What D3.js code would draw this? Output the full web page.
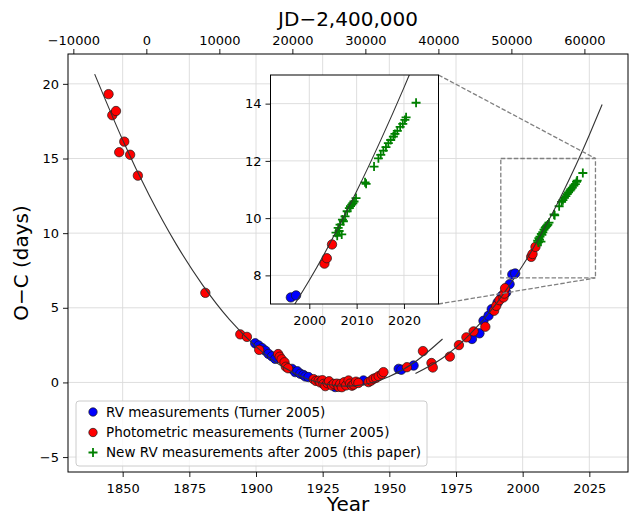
<!DOCTYPE html>
<html>
<head>
<meta charset="utf-8">
<script src="https://cdn.jsdelivr.net/npm/d3@7"></script>
<style>
body { margin: 0; background: #fff; }
text { font-family: "DejaVu Sans", sans-serif; }
</style>
</head>
<body>
<div id="chart"></div>
<script>
// O-C values: [year, O-C in days]
const rvTurner = [
  [1899.7, 2.62], [1901.0, 2.47], [1902.3, 2.30], [1903.5, 2.13], [1904.7, 1.91],
  [1906.0, 1.75], [1907.2, 1.58], [1913.5, 0.91], [1914.7, 0.69], [1915.5, 0.75],
  [1916.6, 0.58], [1917.8, 0.50], [1918.5, 0.40], [1919.7, 0.36], [1929.7, -0.31],
  [1940.3, 0.13], [1953.5, 0.91], [1954.5, 0.85], [1959.1, 1.13], [1981.0, 2.91],
  [1983.8, 3.29], [1985.3, 4.13], [1987.2, 4.47], [1988.4, 4.91], [1990.6, 5.35],
  [1992.2, 5.80], [1993.8, 6.02], [1995.1, 6.58], [1996.1, 7.23], [1997.2, 7.30]
];
const photTurner = [
  [1844.7, 19.31], [1846.1, 17.9], [1847.5, 18.18], [1848.7, 15.42], [1850.6, 16.13],
  [1852.8, 15.25], [1855.7, 13.85], [1881.0, 6.0], [1894.1, 3.22], [1896.6, 3.05],
  [1901.2, 2.18], [1908.3, 1.90], [1908.9, 1.72], [1909.6, 1.55], [1910.7, 1.35],
  [1911.2, 1.05], [1912.0, 0.95], [1921.6, 0.22], [1922.5, 0.10], [1923.5, 0.12],
  [1924.1, 0.0], [1924.9, 0.15], [1925.3, -0.10], [1926.0, -0.25], [1926.8, -0.05],
  [1927.4, 0.08], [1928.5, -0.20], [1929.2, -0.10], [1930.3, -0.08], [1931.0, -0.30],
  [1931.6, -0.10], [1932.2, -0.32], [1933.1, 0.02], [1933.8, -0.20], [1934.7, 0.13],
  [1935.3, -0.08], [1936.0, -0.22], [1936.6, -0.15], [1937.5, 0.05], [1938.4, -0.04],
  [1942.2, 0.02], [1943.2, 0.12], [1944.1, 0.25], [1945.0, 0.30], [1946.0, 0.42],
  [1947.2, 0.55], [1947.8, 0.69], [1956.6, 1.02], [1962.6, 2.10], [1965.8, 1.30],
  [1966.3, 1.00], [1972.7, 1.73], [1976.1, 2.50], [1978.9, 3.02], [1981.6, 3.42],
  [1986.0, 3.73], [1989.3, 4.80], [1990.1, 5.13], [1991.3, 5.51], [1992.8, 5.69],
  [1993.1, 5.95], [1993.4, 6.31], [2003.2, 8.41], [2003.7, 8.60], [2004.8, 9.08]
];
const rvNew = [
  [2005.64, 9.49], [2005.9, 9.38], [2006.1, 9.66], [2006.3, 9.55], [2006.5, 9.77],
  [2006.85, 9.43], [2007.0, 9.95], [2007.2, 9.89], [2007.55, 10.06], [2008.0, 10.24],
  [2008.46, 10.35], [2008.7, 10.42], [2008.96, 10.47], [2009.2, 10.52], [2009.45, 10.58],
  [2009.87, 10.70], [2011.78, 11.25], [2012.0, 11.20], [2013.68, 11.80], [2014.6, 12.09],
  [2015.1, 12.21], [2015.65, 12.36], [2016.2, 12.48], [2016.7, 12.62], [2017.2, 12.73],
  [2017.76, 12.85], [2018.1, 12.94], [2018.6, 13.05], [2019.2, 13.19], [2019.75, 13.29],
  [2020.2, 13.43], [2020.45, 13.52], [2022.56, 14.03]
];
// the two fitted curves
const fitEarly = [
  [1839.5, 20.65], [1850, 16.24], [1860, 12.52], [1870, 9.28], [1880, 6.52], [1890, 4.22],
  [1900, 2.40], [1910, 1.05], [1920, 0.18], [1930, -0.22], [1940, -0.15], [1950, 0.40],
  [1960, 1.42], [1969.95, 2.91]
];
const fitLate = [
  [1959.8, 0.60], [1970, 1.64], [1980, 3.18], [1990, 5.25], [2000, 7.83], [2005, 9.32],
  [2010, 10.94], [2015, 12.69], [2020, 14.56], [2025, 16.57], [2029.8, 18.62]
];

const yearTicks = [1850, 1875, 1900, 1925, 1950, 1975, 2000, 2025];
const jdTicks = [-10000, 0, 10000, 20000, 30000, 40000, 50000, 60000];
const ocTicks = [-5, 0, 5, 10, 15, 20];
const insetYearTicks = [2000, 2010, 2020];
const insetOcTicks = [8, 10, 12, 14];
const legendLabels = [
  "RV measurements (Turner 2005)",
  "Photometric measurements (Turner 2005)",
  "New RV measurements after 2005 (this paper)"
];

const width = 630, height = 516;
const L = 68, R = 628, T = 54, B = 472;

const toJD = yr => (yr - 2000) * 365.25 + 51544.5;

const x = d3.scaleLinear().domain([1829.5, 2039.5]).range([L, R]);
const y = d3.scaleLinear().domain([-6, 22]).range([B, T]);
const xJD = d3.scaleLinear().domain([toJD(1829.5), toJD(2039.5)]).range([L, R]);

// inset
const iL = 270.5, iR = 438.5, iT = 75, iB = 304;
const xi = d3.scaleLinear().domain([1991.8, 2027.3]).range([iL, iR]);
const yi = d3.scaleLinear().domain([7, 15]).range([iB, iT]);

const svg = d3.select("#chart").append("svg")
  .attr("width", width).attr("height", height);

svg.append("clipPath").attr("id", "clipMain")
  .append("rect").attr("x", L).attr("y", T).attr("width", R - L).attr("height", B - T);
svg.append("clipPath").attr("id", "clipInset")
  .append("rect").attr("x", iL).attr("y", iT).attr("width", iR - iL).attr("height", iB - iT);

function styleAxis(g) {
  g.attr("font-family", "DejaVu Sans").attr("font-size", 13);
  g.select(".domain").remove();
  g.selectAll(".tick line").attr("stroke", "#000").attr("stroke-width", 0.9);
  g.selectAll(".tick text").attr("fill", "#000");
}

function drawPanel(g, xs, ys, xt, yt, clipId) {
  // grid
  g.append("g").selectAll("line").data(xt).join("line")
    .attr("x1", d => xs(d)).attr("x2", d => xs(d))
    .attr("y1", ys.range()[0]).attr("y2", ys.range()[1])
    .attr("stroke", "#dadada").attr("stroke-width", 0.9);
  g.append("g").selectAll("line").data(yt).join("line")
    .attr("y1", d => ys(d)).attr("y2", d => ys(d))
    .attr("x1", xs.range()[0]).attr("x2", xs.range()[1])
    .attr("stroke", "#dadada").attr("stroke-width", 0.9);

  const body = g.append("g").attr("clip-path", `url(#${clipId})`);
  return body;
}

function drawData(body, xs, ys) {
  body.append("g").selectAll("circle").data(rvTurner).join("circle")
    .attr("cx", d => xs(d[0])).attr("cy", d => ys(d[1])).attr("r", 4.7)
    .attr("fill", "#0000ff").attr("stroke", "#1a1a1a").attr("stroke-width", 0.7);
  body.append("g").selectAll("circle").data(photTurner).join("circle")
    .attr("cx", d => xs(d[0])).attr("cy", d => ys(d[1])).attr("r", 4.7)
    .attr("fill", "#ff0000").attr("stroke", "#1a1a1a").attr("stroke-width", 0.7);
  body.append("g").selectAll("path").data(rvNew).join("path")
    .attr("d", d => `M${xs(d[0]) - 4.5},${ys(d[1])}h9M${xs(d[0])},${ys(d[1]) - 4.5}v9`)
    .attr("stroke", "#008000").attr("stroke-width", 1.8).attr("fill", "none");

  const line = d3.line().x(d => xs(d[0])).y(d => ys(d[1])).curve(d3.curveNatural);
  [fitEarly, fitLate].forEach(c => {
    body.append("path").attr("d", line(c))
      .attr("fill", "none").attr("stroke", "#333").attr("stroke-width", 1.1);
  });
}

// main panel
const main = svg.append("g");
const mainBody = drawPanel(main, x, y, yearTicks, ocTicks, "clipMain");

// zoom box and connectors
const boxX0 = x(xi.domain()[0]), boxX1 = x(xi.domain()[1]);
const boxY0 = y(yi.domain()[1]), boxY1 = y(yi.domain()[0]);
main.append("rect")
  .attr("x", boxX0).attr("y", boxY0).attr("width", boxX1 - boxX0).attr("height", boxY1 - boxY0)
  .attr("fill", "none").attr("stroke", "#808080").attr("stroke-width", 1.3)
  .attr("stroke-dasharray", "4.5,2");
main.append("line").attr("x1", iR).attr("y1", iT).attr("x2", boxX1).attr("y2", boxY0)
  .attr("stroke", "#808080").attr("stroke-width", 1.3).attr("stroke-dasharray", "4.5,2");
main.append("line").attr("x1", iR).attr("y1", iB).attr("x2", boxX1).attr("y2", boxY1)
  .attr("stroke", "#808080").attr("stroke-width", 1.3).attr("stroke-dasharray", "4.5,2");

drawData(mainBody, x, y);

main.append("rect").attr("x", L).attr("y", T).attr("width", R - L).attr("height", B - T)
  .attr("fill", "none").attr("stroke", "#000").attr("stroke-width", 1);

// axes
const fmt = d3.format("d");
svg.append("g").attr("transform", `translate(0,${B})`)
  .call(d3.axisBottom(x).tickValues(yearTicks).tickFormat(fmt).tickSizeOuter(0).tickSize(5).tickPadding(4))
  .call(styleAxis)
  .call(g => g.selectAll(".tick text").attr("dy", null).attr("y", 20.5));
svg.append("g").attr("transform", `translate(0,${T})`)
  .call(d3.axisTop(xJD).tickValues(jdTicks).tickFormat(fmt).tickSizeOuter(0).tickSize(5).tickPadding(4))
  .call(styleAxis);
svg.append("g").attr("transform", `translate(${L},0)`)
  .call(d3.axisLeft(y).tickValues(ocTicks).tickFormat(fmt).tickSizeOuter(0).tickSize(5).tickPadding(4))
  .call(styleAxis);

svg.append("text").attr("x", (L + R) / 2).attr("y", 511)
  .attr("text-anchor", "middle").attr("font-size", 20).text("Year");
svg.append("text").attr("x", (L + R) / 2).attr("y", 26)
  .attr("text-anchor", "middle").attr("font-size", 20).text("JD\u22122,400,000");
svg.append("text").attr("transform", `translate(28,${(T + B) / 2}) rotate(-90)`)
  .attr("text-anchor", "middle").attr("font-size", 20).text("O\u2212C (days)");

// inset panel
const inset = svg.append("g");
inset.append("rect").attr("x", iL).attr("y", iT).attr("width", iR - iL).attr("height", iB - iT)
  .attr("fill", "#fff");
const insetBody = drawPanel(inset, xi, yi, insetYearTicks, insetOcTicks, "clipInset");
drawData(insetBody, xi, yi);
inset.append("rect").attr("x", iL).attr("y", iT).attr("width", iR - iL).attr("height", iB - iT)
  .attr("fill", "none").attr("stroke", "#000").attr("stroke-width", 1);
svg.append("g").attr("transform", `translate(0,${iB})`)
  .call(d3.axisBottom(xi).tickValues(insetYearTicks).tickFormat(fmt).tickSizeOuter(0).tickSize(5).tickPadding(4))
  .call(styleAxis)
  .call(g => g.selectAll(".tick text").attr("dy", null).attr("y", 20.5));
svg.append("g").attr("transform", `translate(${iL},0)`)
  .call(d3.axisLeft(yi).tickValues(insetOcTicks).tickFormat(fmt).tickSizeOuter(0).tickSize(5).tickPadding(4))
  .call(styleAxis);

// legend
const legend = svg.append("g");
legend.append("rect").attr("x", 76).attr("y", 401).attr("width", 351).attr("height", 65)
  .attr("rx", 3).attr("fill", "#fff").attr("fill-opacity", 0.8)
  .attr("stroke", "#cccccc").attr("stroke-width", 1);
const rowY = [412, 432.5, 452.5];
legend.append("circle").attr("cx", 93).attr("cy", rowY[0]).attr("r", 4.2)
  .attr("fill", "#0000ff").attr("stroke", "#1a1a1a").attr("stroke-width", 0.7);
legend.append("circle").attr("cx", 93).attr("cy", rowY[1]).attr("r", 4.2)
  .attr("fill", "#ff0000").attr("stroke", "#1a1a1a").attr("stroke-width", 0.7);
legend.append("path").attr("d", `M${93 - 4.5},${rowY[2]}h9M93,${rowY[2] - 4.5}v9`)
  .attr("stroke", "#008000").attr("stroke-width", 1.8);
legend.selectAll("text.lab").data(legendLabels).join("text").attr("class", "lab")
  .attr("x", 106).attr("y", (d, i) => rowY[i]).attr("dy", "0.35em")
  .attr("font-size", 13.5).attr("fill", "#000").text(d => d);
</script>
</body>
</html>
